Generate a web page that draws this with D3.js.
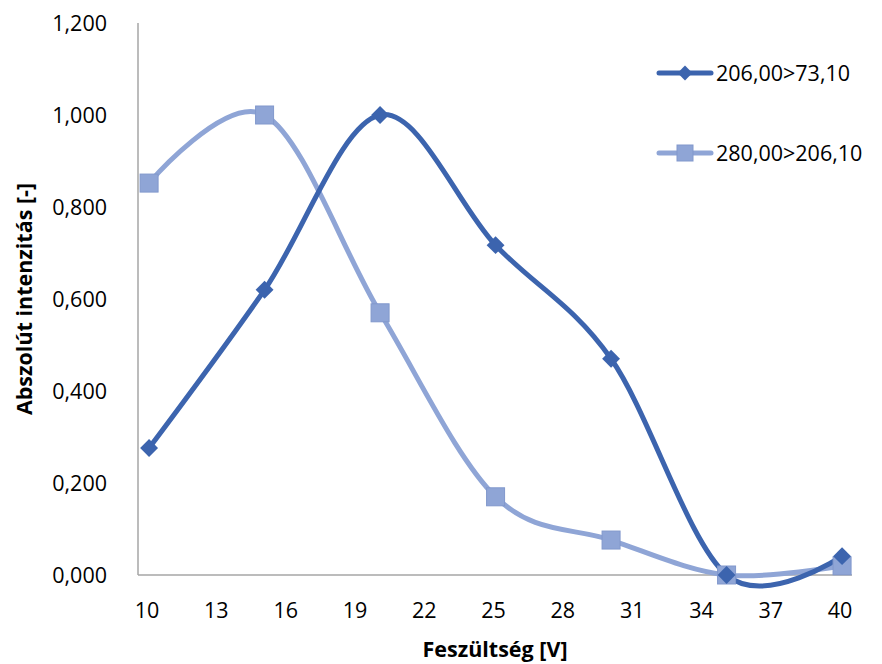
<!DOCTYPE html>
<html><head><meta charset="utf-8">
<script src="https://cdn.jsdelivr.net/npm/d3@7/dist/d3.min.js"></script>
<style>body{margin:0;background:#fff}svg{display:block}</style>
</head><body>
<script>
const voltages = [10, 15, 20, 25, 30, 35, 40];
const series1Name = "206,00>73,10";
const series1 = [0.276, 0.620, 1.000, 0.717, 0.470, 0.000, 0.041];
const series2Name = "280,00>206,10";
const series2 = [0.852, 1.000, 0.570, 0.170, 0.076, 0.000, 0.020];
const xTicks = [10, 13, 16, 19, 22, 25, 28, 31, 34, 37, 40];
const yTicks = [0, 0.2, 0.4, 0.6, 0.8, 1.0, 1.2];
const xTitle = "Feszültség [V]";
const yTitle = "Abszolút intenzitás [-]";

const W = 882, H = 664;
const font = "Open Sans, Liberation Sans, sans-serif";
const fs = 21.5;
const svg = d3.select("body").append("svg").attr("width", W).attr("height", H);

const x = d3.scaleLinear().domain([9.52, 40.43]).range([138, 852]);
const y = d3.scaleLinear().domain([0, 1.2]).range([575, 23]);

// axes
const axisColor = "#a6a6a6";
svg.append("line").attr("x1", 138).attr("x2", 138).attr("y1", y(1.2)).attr("y2", y(0))
  .attr("stroke", axisColor).attr("stroke-width", 1.5);
svg.append("line").attr("x1", 138).attr("x2", 852).attr("y1", y(0)).attr("y2", y(0))
  .attr("stroke", axisColor).attr("stroke-width", 1.5);

const fmt = v => d3.format(".3f")(v).replace(".", ",");
svg.append("g").selectAll("text").data(yTicks).join("text")
  .attr("x", 107).attr("y", d => y(d)).attr("dy", "0.35em")
  .attr("text-anchor", "end").attr("font-family", font).attr("font-size", fs).attr("fill", "#000")
  .text(d => fmt(d));

svg.append("g").selectAll("text").data(xTicks).join("text")
  .attr("x", d => x(d) - 2).attr("y", 610).attr("dy", "0.35em")
  .attr("text-anchor", "middle").attr("font-family", font).attr("font-size", fs).attr("fill", "#000")
  .text(d => d);

svg.append("text").attr("x", 495).attr("y", 649).attr("dy", "0.35em").attr("text-anchor", "middle")
  .attr("font-family", font).attr("font-size", fs).attr("font-weight", "bold").text(xTitle);
svg.append("text").attr("transform", "translate(24,299) rotate(-90)").attr("dy", "0.35em")
  .attr("text-anchor", "middle").attr("font-family", font).attr("font-size", fs).attr("font-weight", "bold").text(yTitle);

const c1 = "#3c64ae", c2 = "#8fa5d6";
const line = d3.line().x(d => x(d[0])).y(d => y(d[1])).curve(d3.curveCardinal.tension(0));
const d1 = voltages.map((v, i) => [v, series1[i]]);
const d2 = voltages.map((v, i) => [v, series2[i]]);

svg.append("path").datum(d2).attr("d", line).attr("fill", "none").attr("stroke", c2).attr("stroke-width", 5).attr("stroke-linecap", "round");
svg.append("path").datum(d1).attr("d", line).attr("fill", "none").attr("stroke", c1).attr("stroke-width", 5).attr("stroke-linecap", "round");

const sq = 18;
svg.append("g").selectAll("rect").data(d2).join("rect")
  .attr("x", d => x(d[0]) - sq / 2).attr("y", d => y(d[1]) - sq / 2).attr("width", sq).attr("height", sq)
  .attr("fill", c2).attr("stroke", "#8198cc").attr("stroke-width", 1);
svg.append("g").selectAll("path").data(d1).join("path")
  .attr("transform", d => `translate(${x(d[0])},${y(d[1])}) rotate(45)`)
  .attr("d", d3.symbol().type(d3.symbolSquare).size(160)).attr("fill", c1);

// legend
const lg = svg.append("g");
[[series1Name, c1, "d", 73], [series2Name, c2, "s", 153]].forEach(([name, col, m, ly]) => {
  lg.append("line").attr("x1", 659).attr("x2", 711).attr("y1", ly).attr("y2", ly)
    .attr("stroke", col).attr("stroke-width", 5).attr("stroke-linecap", "round");
  if (m === "d") {
    lg.append("path").attr("transform", `translate(685,${ly}) rotate(45)`)
      .attr("d", d3.symbol().type(d3.symbolSquare).size(110)).attr("fill", col);
  } else {
    lg.append("rect").attr("x", 685 - 8).attr("y", ly - 8).attr("width", 16).attr("height", 16)
      .attr("fill", col).attr("stroke", "#8198cc");
  }
  lg.append("text").attr("x", 716).attr("y", ly).attr("dy", "0.35em")
    .attr("font-family", font).attr("font-size", fs).text(name);
});
</script>
</body></html>
